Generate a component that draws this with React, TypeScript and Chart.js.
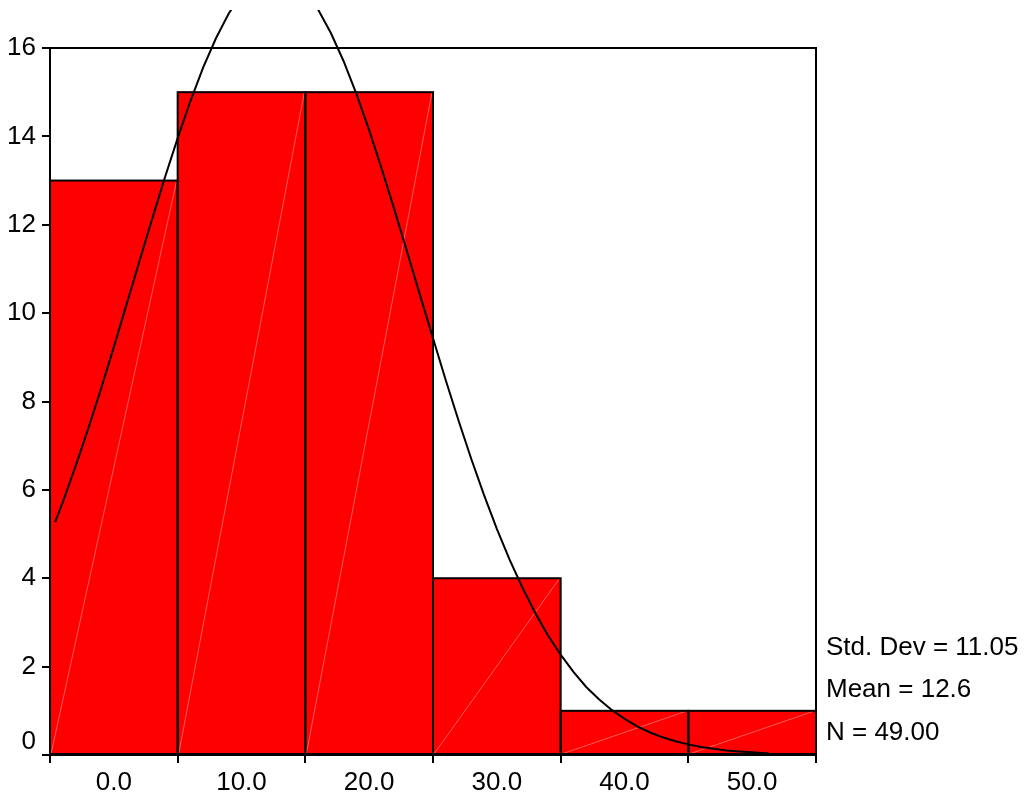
import React, { useEffect, useRef } from "react";
import { Chart, registerables } from "chart.js";

Chart.register(...registerables);

// Histogram bins (centers, width 10) and counts
const binCenters = [0, 10, 20, 30, 40, 50];
const counts = [13, 15, 15, 4, 1, 1];

// Normal curve
const curveX = [-4.6, -4, -3, -2, -1, 0, 1, 2, 3, 4, 5, 6, 7, 8, 9, 10, 11, 12, 13, 14, 15, 16, 17, 18, 19, 20, 21, 22, 23, 24, 25, 26, 27, 28, 29, 30, 31, 32, 33, 34, 35, 36, 37, 38, 39, 40, 41, 42, 43, 44, 45, 46, 47, 48, 49, 50, 51, 51.3];
const curveY = [5.27, 5.72, 6.53, 7.39, 8.29, 9.23, 10.2, 11.17, 12.13, 13.07, 13.96, 14.8, 15.56, 16.22, 16.78, 17.21, 17.51, 17.66, 17.68, 17.55, 17.28, 16.87, 16.34, 15.7, 14.96, 14.14, 13.25, 12.32, 11.36, 10.39, 9.43, 8.48, 7.57, 6.7, 5.88, 5.12, 4.42, 3.79, 3.22, 2.71, 2.27, 1.88, 1.54, 1.26, 1.02, 0.82, 0.65, 0.51, 0.4, 0.31, 0.24, 0.18, 0.14, 0.1, 0.08, 0.06, 0.04, 0.04];

const xTicks = [0, 10, 20, 30, 40, 50];
const yTicks = [0, 2, 4, 6, 8, 10, 12, 14, 16];
const statLines = ["Std. Dev = 11.05", "Mean = 12.6", "N = 49.00"];

const FONT = "'Liberation Sans', Arial, sans-serif";
const FONT_SIZE = 26;

export default function App() {
  const ref = useRef<HTMLCanvasElement | null>(null);

  useEffect(() => {
    const canvas = ref.current;
    if (!canvas) return;

    const framePlugin = {
      id: "framePlugin",
      afterDatasetDraw(chart: any, args: any) {
        if (args.index !== 0) return;
        const ctx = chart.ctx;
        ctx.save();
        args.meta.data.forEach((el: any) => {
          const p = el.getProps(["x", "y", "base", "width"], true);
          const l = p.x - p.width / 2;
          const r = p.x + p.width / 2;
          ctx.strokeStyle = "rgba(255,255,255,0.45)";
          ctx.lineWidth = 0.8;
          ctx.beginPath();
          ctx.moveTo(l + 1, p.base);
          ctx.lineTo(r - 1, p.y);
          ctx.stroke();
          ctx.strokeStyle = "#000";
          ctx.lineWidth = 2;
          ctx.strokeRect(l, p.y, r - l, p.base - p.y);
        });
        ctx.restore();
      },
      afterDraw(chart: any) {
        const ctx = chart.ctx;
        const a = chart.chartArea;
        ctx.save();
        ctx.strokeStyle = "#000";
        ctx.lineWidth = 2;
        ctx.strokeRect(a.left, a.top, a.right - a.left, a.bottom - a.top);
        ctx.fillStyle = "#000";
        ctx.font = `${FONT_SIZE}px ${FONT}`;
        ctx.textAlign = "right";
        ctx.textBaseline = "middle";
        const y0 = chart.scales.y.getPixelForValue(0);
        ctx.fillText("0", a.left - 14, y0 - 13);
        ctx.textAlign = "left";
        const ys = [y0 - 107, y0 - 65, y0 - 22];
        statLines.forEach((t, i) => ctx.fillText(t, a.right + 10, ys[i]));
        ctx.restore();
      },
    };

    const chart = new Chart(canvas, {
      type: "bar",
      data: {
        datasets: [
          {
            type: "bar",
            data: binCenters.map((x, i) => ({ x, y: counts[i] })) as any,
            backgroundColor: "#ff0000",
            borderWidth: 0,
            barPercentage: 1,
            categoryPercentage: 1,
            order: 1,
          },
          {
            type: "line",
            data: curveX.map((x, i) => ({ x, y: curveY[i] })) as any,
            borderColor: "#000",
            borderWidth: 2,
            pointRadius: 0,
            tension: 0,
            fill: false,
            clip: { left: 0, top: 38, right: 0, bottom: 0 } as any,
            order: 0,
          },
        ],
      },
      options: {
        animation: false,
        responsive: true,
        maintainAspectRatio: false,
        layout: { padding: { top: 48, right: 208, left: 0, bottom: 0 } },
        plugins: { legend: { display: false }, tooltip: { enabled: false } },
        scales: {
          x: {
            type: "linear",
            min: -5,
            max: 55,
            offset: false,
            afterBuildTicks: (s: any) => {
              s.ticks = xTicks.map((v) => ({ value: v }));
            },
            afterFit: (s: any) => {
              s.height = 44;
            },
            ticks: {
              autoSkip: false,
              maxRotation: 0,
              padding: 4,
              color: "#000",
              font: { family: FONT, size: FONT_SIZE },
              callback: (v: any) => Number(v).toFixed(1),
            },
            grid: { drawOnChartArea: false, drawTicks: true, tickLength: 8, color: "#000", lineWidth: 2 },
            border: { display: true, color: "#000", width: 2 },
          },
          y: {
            type: "linear",
            min: 0,
            max: 16,
            afterBuildTicks: (s: any) => {
              s.ticks = yTicks.map((v) => ({ value: v }));
            },
            afterFit: (s: any) => {
              s.width = 50;
            },
            ticks: {
              autoSkip: false,
              padding: 6,
              color: "#000",
              font: { family: FONT, size: FONT_SIZE },
              callback: (v: any) => (Number(v) === 0 ? "" : String(v)),
            },
            grid: { drawOnChartArea: false, drawTicks: true, tickLength: 8, color: "#000", lineWidth: 2 },
            border: { display: true, color: "#000", width: 2 },
          },
        },
      },
      plugins: [framePlugin],
    });

    return () => chart.destroy();
  }, []);

  return (
    <div style={{ position: "fixed", left: 0, top: 0, width: 1024, height: 799, background: "#fff" }}>
      <canvas ref={ref} style={{ width: "100%", height: "100%" }} />
    </div>
  );
}
